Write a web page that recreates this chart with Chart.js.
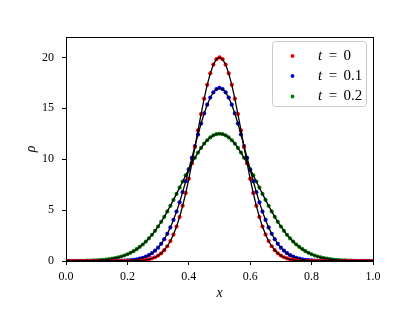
<!DOCTYPE html>
<html><head><meta charset="utf-8">
<script src="https://cdn.jsdelivr.net/npm/chart.js@4/dist/chart.umd.min.js"></script>
<style>html,body{margin:0;padding:0;background:#fff;}#wrap{width:415px;height:311px;}</style>
</head><body><div id="wrap"><canvas id="c" width="415" height="311"></canvas></div>
<script>
const xValues = [0,0.01,0.02,0.03,0.04,0.05,0.06,0.07,0.08,0.09,0.1,0.11,0.12,0.13,0.14,0.15,0.16,0.17,0.18,0.19,0.2,0.21,0.22,0.23,0.24,0.25,0.26,0.27,0.28,0.29,0.3,0.31,0.32,0.33,0.34,0.35,0.36,0.37,0.38,0.39,0.4,0.41,0.42,0.43,0.44,0.45,0.46,0.47,0.48,0.49,0.5,0.51,0.52,0.53,0.54,0.55,0.56,0.57,0.58,0.59,0.6,0.61,0.62,0.63,0.64,0.65,0.66,0.67,0.68,0.69,0.7,0.71,0.72,0.73,0.74,0.75,0.76,0.77,0.78,0.79,0.8,0.81,0.82,0.83,0.84,0.85,0.86,0.87,0.88,0.89,0.9,0.91,0.92,0.93,0.94,0.95,0.96,0.97,0.98,0.99,1];
const rhoT0 = [0,0,0,0,0,0,0,0,0,0,0,0,0,0,0,0,0,0.001,0.002,0.003,0.006,0.010,0.016,0.027,0.043,0.069,0.108,0.165,0.248,0.366,0.531,0.757,1.06,1.45,1.96,2.60,3.38,4.32,5.42,6.67,8.07,9.59,11.19,12.82,14.43,15.94,17.30,18.43,19.29,19.82,20,19.82,19.29,18.43,17.30,15.94,14.43,12.82,11.19,9.59,8.07,6.67,5.42,4.32,3.38,2.60,1.96,1.45,1.06,0.757,0.531,0.366,0.248,0.165,0.108,0.069,0.043,0.027,0.016,0.010,0.006,0.003,0.002,0.001,0,0,0,0,0,0,0,0,0,0,0,0,0,0,0,0,0];
const rhoT01 = [0,0,0,0,0,0,0,0,0,0,0,0.001,0.002,0.003,0.004,0.007,0.010,0.016,0.024,0.036,0.054,0.078,0.113,0.160,0.225,0.311,0.426,0.576,0.768,1.01,1.31,1.69,2.14,2.67,3.30,4.03,4.85,5.76,6.76,7.84,8.96,10.12,11.29,12.42,13.50,14.49,15.35,16.05,16.57,16.89,17,16.89,16.57,16.05,15.35,14.49,13.50,12.42,11.29,10.12,8.96,7.84,6.76,5.76,4.85,4.03,3.30,2.67,2.14,1.69,1.31,1.01,0.768,0.576,0.426,0.311,0.225,0.160,0.113,0.078,0.054,0.036,0.024,0.016,0.010,0.007,0.004,0.003,0.002,0.001,0,0,0,0,0,0,0,0,0,0,0];
const rhoT02 = [0.004,0.005,0.007,0.009,0.012,0.017,0.022,0.030,0.039,0.052,0.067,0.087,0.112,0.143,0.182,0.229,0.287,0.357,0.441,0.542,0.662,0.802,0.967,1.16,1.38,1.62,1.91,2.22,2.57,2.96,3.39,3.85,4.34,4.87,5.42,6.00,6.59,7.20,7.81,8.42,9.02,9.60,10.14,10.65,11.11,11.52,11.86,12.14,12.34,12.46,12.5,12.46,12.34,12.14,11.86,11.52,11.11,10.65,10.14,9.60,9.02,8.42,7.81,7.20,6.59,6.00,5.42,4.87,4.34,3.85,3.39,2.96,2.57,2.22,1.91,1.62,1.38,1.16,0.967,0.802,0.662,0.542,0.441,0.357,0.287,0.229,0.182,0.143,0.112,0.087,0.067,0.052,0.039,0.030,0.022,0.017,0.012,0.009,0.007,0.005,0.004];
const seriesTimes = ['0','0.1','0.2'];
const seriesColors = ['#ff0000','#0000ff','#008000'];
const xTicks = [0,0.2,0.4,0.6,0.8,1.0];
const yTicks = [0,5,10,15,20];

const allSeries = [rhoT0, rhoT01, rhoT02];
const toPts = arr => xValues.map((x,i)=>({x:x, y:arr[i]}));
const FONT = 'Liberation Serif';

const datasets = [];
allSeries.forEach((arr,i)=>{
  datasets.push({data:toPts(arr), showLine:true, borderColor:'#000', borderWidth:1.3, pointRadius:0, fill:false, tension:0});
});
allSeries.forEach((arr,i)=>{
  datasets.push({data:toPts(arr), showLine:false, pointRadius:2.1, pointBorderWidth:0, backgroundColor:seriesColors[i], pointBackgroundColor:seriesColors[i]});
});

const framePlugin = {
  id:'frame',
  afterDraw(chart){
    const {ctx, chartArea:a} = chart;
    ctx.save();
    ctx.strokeStyle = '#000';
    ctx.lineWidth = 1;
    ctx.strokeRect(Math.round(a.left)+0.5, Math.round(a.top)+0.5, Math.round(a.width), Math.round(a.height));
    // legend
    const bx = 272.5, by = 41.5, bw = 94, bh = 65, r = 3;
    ctx.beginPath();
    ctx.moveTo(bx+r, by); ctx.lineTo(bx+bw-r, by); ctx.arcTo(bx+bw, by, bx+bw, by+r, r);
    ctx.lineTo(bx+bw, by+bh-r); ctx.arcTo(bx+bw, by+bh, bx+bw-r, by+bh, r);
    ctx.lineTo(bx+r, by+bh); ctx.arcTo(bx, by+bh, bx, by+bh-r, r);
    ctx.lineTo(bx, by+r); ctx.arcTo(bx, by, bx+r, by, r);
    ctx.closePath();
    ctx.fillStyle = 'rgba(255,255,255,0.8)';
    ctx.fill();
    ctx.strokeStyle = '#cccccc';
    ctx.stroke();
    const rows = [56, 76, 96.5];
    seriesTimes.forEach((t,i)=>{
      const y = rows[i];
      ctx.fillStyle = seriesColors[i];
      ctx.beginPath(); ctx.arc(292.5, y, 1.9, 0, Math.PI*2); ctx.fill();
      ctx.fillStyle = '#000';
      ctx.textBaseline = 'middle';
      ctx.textAlign = 'left';
      ctx.font = 'italic 15px "' + FONT + '"';
      ctx.fillText('t', 318, y);
      ctx.font = '15px "' + FONT + '"';
      ctx.textAlign = 'center';
      ctx.fillText('=', 333, y);
      ctx.textAlign = 'left';
      ctx.fillText(t, 343.5, y);
    });
    ctx.restore();
  }
};

new Chart(document.getElementById('c'), {
  type:'scatter',
  data:{datasets:datasets},
  options:{
    responsive:false, animation:false, devicePixelRatio:1,
    layout:{padding:{top:37, right:42, left:0, bottom:0}},
    plugins:{legend:{display:false}, tooltip:{enabled:false}},
    scales:{
      x:{
        type:'linear', min:0, max:1,
        afterBuildTicks: s => { s.ticks = xTicks.map(v=>({value:v})); },
        afterFit: s => { s.height = 50; },
        ticks:{callback: v => Number(v).toFixed(1), font:{family:FONT, size:12}, color:'#000', padding:5, maxRotation:0, autoSkip:false},
        grid:{drawOnChartArea:false, drawTicks:true, tickLength:4, color:'#000'},
        border:{display:false},
        title:{display:true, text:'x', font:{family:FONT, style:'italic', size:14}, color:'#000', padding:{top:0, bottom:9}}
      },
      y:{
        type:'linear', min:0, max:22,
        afterBuildTicks: s => { s.ticks = yTicks.map(v=>({value:v})); },
        afterFit: s => { s.width = 66; },
        ticks:{callback: v => String(v), font:{family:FONT, size:12}, color:'#000', padding:8},
        grid:{drawOnChartArea:false, drawTicks:true, tickLength:4, color:'#000'},
        border:{display:false},
        title:{display:true, text:'ρ', font:{family:FONT, style:'italic', size:14}, color:'#000', padding:{top:23, bottom:0}}
      }
    }
  },
  plugins:[framePlugin]
});
</script>
</body></html>
